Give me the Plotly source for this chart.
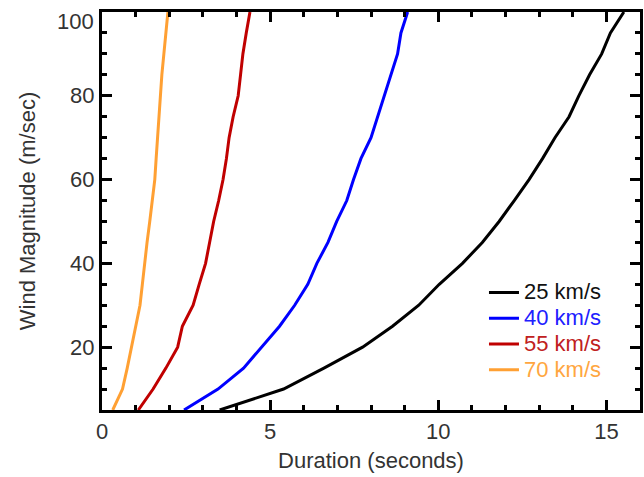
import plotly.graph_objects as go

# wind magnitude samples (m/sec)
wind = [5, 10, 15, 20, 25, 30, 35, 40, 45, 50, 55, 60, 65, 70, 75, 80, 85, 90, 95, 100]

# duration (seconds) for each velocity
dur_25 = [3.5, 5.4, 6.6, 7.75, 8.64, 9.42, 10.03, 10.72, 11.31, 11.81, 12.26,
          12.70, 13.10, 13.47, 13.89, 14.18, 14.50, 14.86, 15.12, 15.52]
dur_40 = [2.44, 3.45, 4.21, 4.75, 5.28, 5.73, 6.12, 6.39, 6.72, 6.98, 7.28,
          7.48, 7.70, 8.00, 8.20, 8.40, 8.60, 8.79, 8.89, 9.09]
dur_55 = [1.08, 1.52, 1.90, 2.25, 2.39, 2.71, 2.89, 3.08, 3.20, 3.32, 3.47,
          3.60, 3.70, 3.78, 3.90, 4.05, 4.12, 4.19, 4.29, 4.40]
dur_70 = [0.32, 0.61, 0.75, 0.88, 1.01, 1.13, 1.20, 1.26, 1.34, 1.42, 1.49,
          1.57, 1.61, 1.65, 1.69, 1.72, 1.78, 1.84, 1.90, 1.96]

names = ["25 km/s", "40 km/s", "55 km/s", "70 km/s"]
colors = ["#000000", "#0000FF", "#C00000", "#FFA033"]
text_colors = ["#111111", "#2020FF", "#C02020", "#FFA640"]

y_ticks = [20, 40, 60, 80]
y_top_label = "100"

fig = go.Figure()
for name, xs, c, tc in zip(names, [dur_25, dur_40, dur_55, dur_70], colors, text_colors):
    label = f'<span style="font-size:22px;color:{tc}">{name}</span>'
    fig.add_trace(go.Scatter(x=xs, y=wind, mode="lines", name=label,
                             line=dict(color=c, width=3)))

axis_common = dict(showline=True, linecolor="black", linewidth=3, mirror="allticks",
                   ticks="inside", ticklen=10, tickwidth=3, tickcolor="black",
                   showgrid=False, zeroline=False, automargin=False,
                   tickfont=dict(size=22, color="#333"))

fig.update_xaxes(range=[0, 16], dtick=5, tick0=0,
                 minor=dict(dtick=1, ticks="inside", ticklen=5, tickwidth=3, tickcolor="black"),
                 title=dict(text="Duration (seconds)", standoff=10,
                            font=dict(size=22, color="#333")),
                 **axis_common)
fig.update_yaxes(range=[5, 100], tickvals=y_ticks,
                 minor=dict(dtick=5, tick0=0, ticks="inside", ticklen=5, tickwidth=3,
                            tickcolor="black"),
                 title=dict(text="Wind Magnitude (m/sec)", standoff=29,
                            font=dict(size=22, color="#333")),
                 **axis_common)

# top y label sits just under the frame, as in the original
fig.add_annotation(x=0, xref="paper", xanchor="right", xshift=-6,
                   y=100, yref="y", yanchor="top", yshift=5,
                   text=y_top_label, showarrow=False,
                   font=dict(size=22, color="#333"))

fig.update_layout(
    width=644, height=477,
    margin=dict(l=102, r=4, t=12, b=67),
    plot_bgcolor="white", paper_bgcolor="white",
    font=dict(family="Liberation Sans, Arial, sans-serif", size=22, color="#333"),
    showlegend=True,
    legend=dict(x=0.710, y=0.340, xanchor="left", yanchor="top",
                bgcolor="rgba(0,0,0,0)", font=dict(size=17.5), itemwidth=30),
)

fig.write_html("out.html", config={"displayModeBar": False},
               post_script="document.body.style.margin='0';")
